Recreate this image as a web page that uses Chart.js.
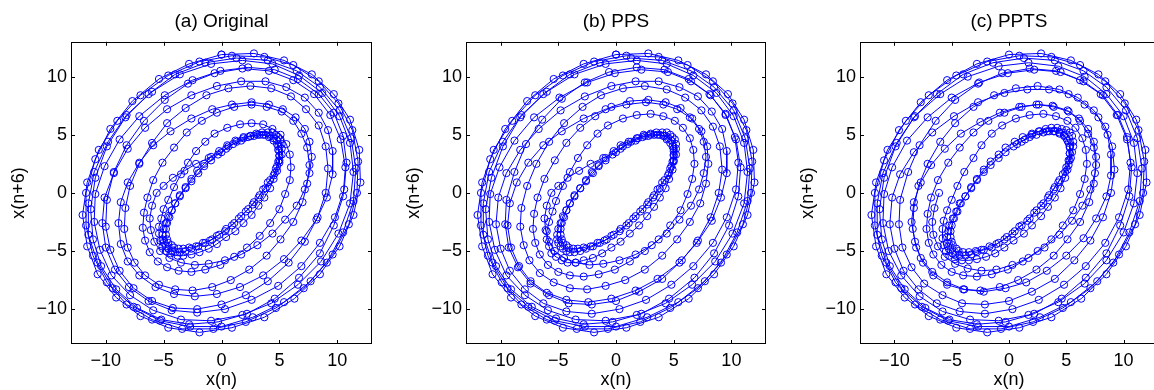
<!DOCTYPE html>
<html>
<head>
<meta charset="utf-8">
<script src="https://cdn.jsdelivr.net/npm/chart.js@4.4.1/dist/chart.umd.min.js"></script>
<style>
html, body { margin: 0; padding: 0; background: #fff; overflow: hidden; }
.panel { position: absolute; top: 0; width: 390px; height: 390px; }
</style>
</head>
<body>
<div class="panel" style="left:0px"><canvas id="chartA" width="390" height="390"></canvas></div>
<div class="panel" style="left:395px"><canvas id="chartB" width="390" height="390"></canvas></div>
<div class="panel" style="left:789px"><canvas id="chartC" width="390" height="390"></canvas></div>
<script>
// ===============================
// Data: x(n) read off the loops, one array per turn
// ===============================

const lag = 6;
const tickValues = [-10, -5, 0, 5, 10];
const axisMin = -13;
const axisMax = 13;
const titles = ["(a) Original", "(b) PPS", "(c) PPTS"];

// turns used by the original series
const a1 = [0, 2.8, 5.4, 7.8, 9.7, 11.1, 11.9, 12.0, 11.4, 10.2, 8.5, 6.3, 3.7, 0.9, -1.9, -4.6, -7.0, -9.1, -10.7, -11.6, -12.0, -11.6, -10.6, -9.0, -7.0, -4.6, -1.9];
const a2 = [0.9, 3.7, 6.2, 8.4, 10.1, 11.3, 11.8, 11.7, 11.0, 9.6, 7.7, 5.4, 2.7, 0, -2.7, -5.3, -7.6, -9.4, -10.7, -11.5, -11.5, -11.0, -9.8, -8.2, -6.0, -3.6, -0.9];
const a3 = [1.8, 4.4, 6.7, 8.7, 10.2, 11.1, 11.4, 11.1, 10.1, 8.6, 6.6, 4.3, 1.8, -0.9, -3.5, -5.9, -7.9, -9.5, -10.5, -11.0, -10.9, -10.1, -8.8, -7.1, -4.9, -2.5];
const a4 = [-0.1, 2.3, 4.6, 6.6, 8.4, 9.7, 10.5, 10.8, 10.6, 9.8, 8.5, 6.9, 4.9, 2.6, 0.3, -2.1, -4.3, -6.3, -8.0, -9.2, -10.0, -10.3, -10.1, -9.3, -8.1, -6.6, -4.7, -2.6, -0.4];
const a5 = [1.7, 3.8, 5.6, 7.2, 8.4, 9.2, 9.6, 9.6, 9.1, 8.2, 6.9, 5.4, 3.6, 1.6, -0.4, -2.3, -4.1, -5.7, -7.1, -8.1, -8.7, -8.9, -8.7, -8.1, -7.1, -5.9, -4.4, -2.6, -0.8];
const a6 = [0.9, 2.6, 4.1, 5.3, 6.4, 7.2, 7.6, 7.8, 7.6, 7.2, 6.5, 5.5, 4.4, 3.1, 1.7, 0.3, -1.1, -2.3, -3.5, -4.5, -5.3, -5.8, -6.1, -6.2, -6.0, -5.6, -5.0, -4.2, -3.2, -2.2, -1.1, 0.0];
const a7 = [0.6, 1.3, 1.9, 2.5, 3.0, 3.5, 4.0, 4.4, 4.7, 4.9, 5.1, 5.2, 5.2, 5.2, 5.0, 4.8, 4.6, 4.2, 3.8, 3.3, 2.8, 2.3, 1.7, 1.1, 0.4, -0.2, -0.8, -1.4, -2.0, -2.6, -3.1, -3.6, -4.0, -4.3, -4.6, -4.8, -5.0, -5.1, -5.1, -5.0, -4.8, -4.6, -4.3, -4.0, -3.6, -3.1, -2.6, -2.0, -1.5, -0.9, -0.3];
const a8 = [0.4, 1.0, 1.7, 2.3, 2.8, 3.3, 3.8, 4.2, 4.5, 4.8, 4.9, 5.0, 5.0, 4.9, 4.7, 4.5, 4.0, 3.6, 3.2, 2.7, 2.1, 1.5, 0.9, 0.3, -0.4, -1.0, -1.6, -2.2, -2.8, -3.3, -3.7, -4.1, -4.3, -4.6, -4.7, -4.8, -4.8, -4.7, -4.5, -4.3, -4.0, -3.6, -3.1, -2.6, -2.1, -1.5, -0.9, -0.2];
const a9 = [0.5, 1.2, 1.9, 2.5, 3.1, 3.6, 4.1, 4.5, 4.8, 4.9, 5.0, 5.0, 4.8, 4.5, 4.2, 3.7, 3.2, 2.6, 1.9, 1.2, 0.4, -0.4, -1.1, -1.9, -2.6, -3.3, -3.8, -4.4, -4.8, -5.1, -5.3, -5.4, -5.4, -5.2, -5.0, -4.6, -4.1, -3.5, -2.9, -2.2, -1.4, -0.6];
const a10 = [0.5, 1.6, 2.6, 3.6, 4.4, 5.1, 5.6, 5.9, 6.0, 5.9, 5.5, 5.0, 4.2, 3.3, 2.2, 1.1, -0.1, -1.4, -2.6, -3.7, -4.7, -5.5, -6.2, -6.6, -6.8, -6.7, -6.4, -5.9, -5.1, -4.1, -3.0, -1.7, -0.4];
const a11 = [1.1, 2.6, 3.9, 5.2, 6.2, 6.9, 7.4, 7.6, 7.4, 7.0, 6.2, 5.1, 3.9, 2.4, 0.8, -0.8, -2.5, -4.0, -5.4, -6.6, -7.5, -8.1, -8.4, -8.3, -7.9, -7.1, -6.0, -4.7, -3.1, -1.3];
const a12 = [0.6, 2.5, 4.3, 6.0, 7.3, 8.4, 9.0, 9.2, 9.0, 8.3, 7.2, 5.8, 4.0, 2.1, 0.0, -2.1, -4.2, -6.0, -7.6, -8.8, -9.6, -10.0, -9.9, -9.3, -8.2, -6.7, -4.9, -2.9, -0.6];
const a13 = [1.8, 4.1, 6.2, 8.0, 9.4, 10.3, 10.7, 10.5, 9.7, 8.5, 6.7, 4.6, 2.2, -0.3, -2.8, -5.2, -7.3, -9.1, -10.4, -11.1, -11.3, -10.9, -9.9, -8.3, -6.3, -4.0, -1.4];
const a14 = [1.3, 4.0, 6.5, 8.5, 10.2, 11.2, 11.6, 11.4, 10.5, 9.1, 7.1, 4.7, 2.1, -0.7, -3.4, -6.0, -8.2, -9.9, -11.1, -11.7, -11.7, -10.9, -9.6, -7.7, -5.4, -2.8];
const tail = [0.0, 2.9, 5.5, 7.9, 9.8, 11.1, 11.9];

// turns that differ in the PPS series
const b4 = [-0.1, 2.2, 4.5, 6.5, 8.2, 9.5, 10.3, 10.6, 10.4, 9.6, 8.4, 6.7, 4.8, 2.6, 0.3, -2.1, -4.3, -6.3, -7.9, -9.2, -10.0, -10.4, -10.2, -9.5, -8.3, -6.7, -4.8, -2.7, -0.4];
const b5 = [1.7, 3.7, 5.5, 7.1, 8.3, 9.2, 9.6, 9.6, 9.1, 8.3, 7.0, 5.5, 3.6, 1.7, -0.4, -2.4, -4.3, -6.0, -7.4, -8.4, -9.1, -9.4, -9.2, -8.6, -7.6, -6.3, -4.7, -2.8, -0.9];
const b9 = [0.4, 1.1, 1.8, 2.4, 3.0, 3.6, 4.1, 4.4, 4.7, 5.0, 5.0, 5.0, 4.9, 4.6, 4.3, 3.8, 3.3, 2.7, 2.0, 1.2, 0.4, -0.4, -1.2, -2.0, -2.8, -3.5, -4.2, -4.7, -5.2, -5.6, -5.8, -6.0, -6.0, -5.8, -5.5, -5.2, -4.6, -4.0, -3.3, -2.5, -1.6, -0.7];
const b10 = [0.6, 1.8, 3.0, 4.1, 5.1, 5.8, 6.4, 6.7, 6.8, 6.6, 6.2, 5.6, 4.7, 3.7, 2.5, 1.2, -0.1, -1.5, -2.8, -4.0, -5.0, -5.9, -6.6, -7.0, -7.2, -7.1, -6.8, -6.2, -5.3, -4.3, -3.1, -1.8, -0.4];
const b11 = [1.2, 2.8, 4.3, 5.6, 6.6, 7.4, 7.9, 8.0, 7.8, 7.3, 6.4, 5.3, 4.0, 2.5, 0.8, -0.9, -2.5, -4.0, -5.4, -6.6, -7.5, -8.0, -8.3, -8.2, -7.7, -6.9, -5.8, -4.5, -2.9, -1.3];
const b12 = [0.6, 2.5, 4.4, 6.0, 7.4, 8.4, 9.0, 9.2, 8.9, 8.2, 7.1, 5.7, 4.0, 2.0, 0.0, -2.1, -4.1, -5.8, -7.4, -8.5, -9.3, -9.6, -9.5, -8.8, -7.8, -6.4, -4.7, -2.7, -0.6];
const b13 = [1.8, 4.2, 6.3, 8.1, 9.5, 10.4, 10.8, 10.6, 9.8, 8.5, 6.8, 4.6, 2.2, -0.3, -2.8, -5.2, -7.3, -9.1, -10.4, -11.1, -11.3, -10.8, -9.8, -8.3, -6.3, -4.0, -1.4];

// turns that differ in the PPTS series
const c3 = [1.7, 4.3, 6.6, 8.5, 10.0, 10.9, 11.2, 10.9, 10.0, 8.5, 6.6, 4.3, 1.7, -0.9, -3.4, -5.8, -7.8, -9.4, -10.5, -11.0, -10.9, -10.2, -8.9, -7.1, -5.0, -2.6];
const c5 = [1.6, 3.5, 5.2, 6.6, 7.8, 8.6, 8.9, 8.9, 8.5, 7.6, 6.5, 5.0, 3.3, 1.5, -0.3, -2.2, -3.9, -5.4, -6.7, -7.7, -8.2, -8.5, -8.3, -7.7, -6.8, -5.6, -4.2, -2.5, -0.8];
const c6 = [0.9, 2.4, 3.8, 5.1, 6.1, 6.9, 7.4, 7.6, 7.5, 7.1, 6.4, 5.5, 4.4, 3.1, 1.7, 0.3, -1.1, -2.4, -3.6, -4.7, -5.6, -6.2, -6.6, -6.7, -6.5, -6.1, -5.5, -4.6, -3.6, -2.5, -1.3, 0.0];
const c7 = [0.7, 1.4, 2.0, 2.6, 3.2, 3.7, 4.2, 4.6, 5.0, 5.3, 5.5, 5.6, 5.6, 5.5, 5.4, 5.2, 4.9, 4.4, 4.0, 3.5, 3.0, 2.4, 1.8, 1.1, 0.5, -0.2, -0.9, -1.5, -2.2, -2.8, -3.3, -3.8, -4.3, -4.7, -4.9, -5.1, -5.3, -5.4, -5.4, -5.3, -5.2, -4.9, -4.6, -4.3, -3.8, -3.3, -2.8, -2.2, -1.6, -0.9, -0.3];
const c8 = [0.4, 1.1, 1.8, 2.4, 3.0, 3.5, 4.0, 4.4, 4.8, 5.0, 5.2, 5.3, 5.3, 5.2, 5.0, 4.7, 4.3, 3.9, 3.4, 2.8, 2.2, 1.6, 0.9, 0.3, -0.4, -1.1, -1.7, -2.4, -2.9, -3.5, -4.0, -4.4, -4.6, -4.9, -5.0, -5.1, -5.1, -5.0, -4.8, -4.5, -4.2, -3.8, -3.3, -2.8, -2.2, -1.6, -0.9, -0.3];
const c9 = [0.5, 1.2, 2.0, 2.7, 3.3, 3.9, 4.4, 4.8, 5.1, 5.3, 5.3, 5.3, 5.1, 4.9, 4.5, 4.0, 3.4, 2.8, 2.0, 1.3, 0.4, -0.4, -1.2, -2.0, -2.8, -3.5, -4.1, -4.7, -5.2, -5.5, -5.7, -5.8, -5.8, -5.7, -5.4, -5.0, -4.5, -3.9, -3.1, -2.4, -1.5, -0.6];

const seriesA = [...a1, ...a2, ...a3, ...a4, ...a5, ...a6, ...a7, ...a8, ...a9, ...a10, ...a11, ...a12, ...a13, ...a14, ...tail];
const seriesB = [...a1, ...a2, ...a3, ...b4, ...b5, ...a6, ...a7, ...a8, ...b9, ...b10, ...b11, ...b12, ...b13, ...a14, ...tail];
const seriesC = [...c7, ...c8, ...c9, ...b10, ...a11, ...b12, ...a13, ...a14, ...a1, ...a2, ...c3, ...b4, ...c5, ...c6];

// ===============================
// Chart helpers
// ===============================

const FONT = '"Liberation Sans", Arial, Helvetica, sans-serif';
const BLUE = "#0000ff";

// pairs (x(n), x(n+6))
function embed(series) {
    const pts = [];
    for (let n = 0; n + lag < series.length; n++) {
        pts.push({ x: series[n], y: series[n + lag] });
    }
    return pts;
}

function tickText(v) {
    return v < 0 ? "\u2212" + Math.abs(v) : String(v);
}

// matlab style box with inward ticks on all four sides
const boxTicks = {
    id: "boxTicks",
    afterDraw(chart) {
        const { ctx, chartArea: a, scales: { x, y } } = chart;
        ctx.save();
        ctx.strokeStyle = "#000";
        ctx.lineWidth = 1;
        ctx.strokeRect(Math.round(a.left) + 0.5, Math.round(a.top) + 0.5,
            Math.round(a.right - a.left) - 1, Math.round(a.bottom - a.top) - 1);
        ctx.beginPath();
        tickValues.forEach(v => {
            const px = Math.round(x.getPixelForValue(v)) + 0.5;
            ctx.moveTo(px, a.bottom); ctx.lineTo(px, a.bottom - 4);
            ctx.moveTo(px, a.top); ctx.lineTo(px, a.top + 4);
            const py = Math.round(y.getPixelForValue(v)) + 0.5;
            ctx.moveTo(a.left, py); ctx.lineTo(a.left + 4, py);
            ctx.moveTo(a.right, py); ctx.lineTo(a.right - 4, py);
        });
        ctx.stroke();
        ctx.restore();
    }
};

function makePanel(id, title, series, padRight) {
    const canvas = document.getElementById(id);
    if (!canvas) return;

    new Chart(canvas, {
        type: "scatter",
        data: {
            datasets: [{
                data: embed(series),
                showLine: true,
                borderColor: BLUE,
                borderWidth: 1,
                tension: 0,
                pointStyle: "circle",
                pointRadius: 3.6,
                pointBorderColor: BLUE,
                pointBackgroundColor: "rgba(0,0,0,0)",
                pointBorderWidth: 1
            }]
        },
        options: {
            responsive: false,
            animation: false,
            devicePixelRatio: 1,
            layout: { padding: { left: 0, right: padRight, top: 0, bottom: 0 } },
            plugins: {
                legend: { display: false },
                tooltip: { enabled: false },
                title: {
                    display: true,
                    text: title,
                    color: "#000",
                    fullSize: false,
                    font: { family: FONT, size: 19, weight: "normal" },
                    padding: { top: 10, bottom: 9 }
                }
            },
            scales: {
                x: {
                    type: "linear",
                    min: axisMin,
                    max: axisMax,
                    afterBuildTicks: s => { s.ticks = tickValues.map(v => ({ value: v })); },
                    afterFit: s => { s.height = 46; },
                    grid: { display: false, drawTicks: false },
                    border: { display: false },
                    ticks: {
                        color: "#000",
                        font: { family: FONT, size: 18 },
                        padding: 6,
                        maxRotation: 0,
                        autoSkip: false,
                        callback: tickText
                    },
                    title: {
                        display: true,
                        text: "x(n)",
                        color: "#000",
                        font: { family: FONT, size: 18, lineHeight: 1 },
                        padding: { top: 0, bottom: 1 }
                    }
                },
                y: {
                    type: "linear",
                    min: axisMin,
                    max: axisMax,
                    afterBuildTicks: s => { s.ticks = tickValues.map(v => ({ value: v })); },
                    afterFit: s => { s.width = 71; },
                    grid: { display: false, drawTicks: false },
                    border: { display: false },
                    ticks: {
                        color: "#000",
                        font: { family: FONT, size: 18 },
                        padding: 4,
                        autoSkip: false,
                        callback: tickText
                    },
                    title: {
                        display: true,
                        text: "x(n+6)",
                        color: "#000",
                        font: { family: FONT, size: 18, lineHeight: 1 },
                        padding: { top: 10, bottom: 0 }
                    }
                }
            }
        },
        plugins: [boxTicks]
    });
}

makePanel("chartA", titles[0], seriesA, 18);
makePanel("chartB", titles[1], seriesB, 19);
makePanel("chartC", titles[2], seriesC, 21);
</script>
</body>
</html>
